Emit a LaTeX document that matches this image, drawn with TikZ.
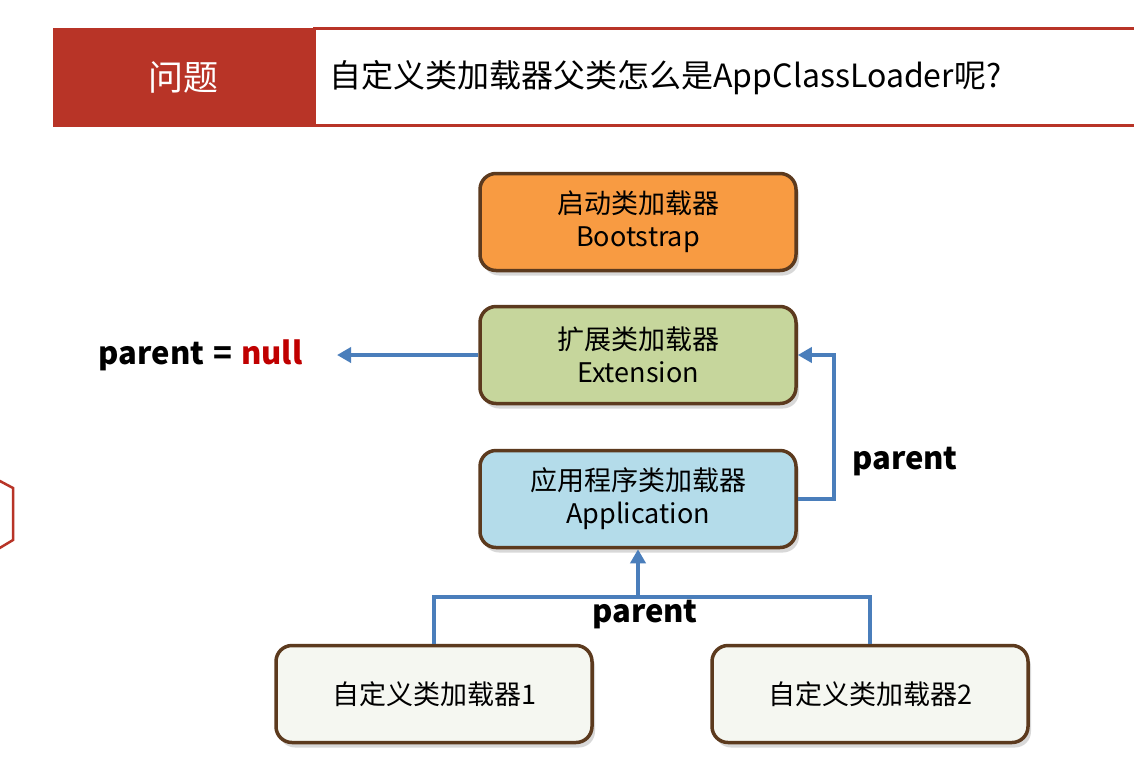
\documentclass[tikz,border=0pt]{standalone}
\usepackage{fontspec}
\setmainfont{Noto Sans CJK SC}
\usetikzlibrary{arrows.meta, positioning, shadows}
\definecolor{hdrred}{HTML}{B83427}
\definecolor{boxbrown}{HTML}{5C3A1E}
\definecolor{bootorange}{HTML}{F89B42}
\definecolor{extgreen}{HTML}{C6D69C}
\definecolor{appblue}{HTML}{B4DCEA}
\definecolor{custwhite}{HTML}{F5F7F1}
\definecolor{linkblue}{HTML}{4A7EBB}
\definecolor{nullred}{HTML}{C00000}

\begin{document}
\begin{tikzpicture}[x=1pt, y=-1pt,
    loader/.style={draw=boxbrown, line width=3.5pt, rounded corners=16pt,
        minimum width=316pt, minimum height=97pt, align=center,
        font=\fontsize{27}{33}\selectfont,
        drop shadow={shadow xshift=3pt, shadow yshift=-5pt, opacity=0.3}},
    link/.style={draw=linkblue, line width=4pt},
    >={Triangle[length=14pt, width=15pt]},
    tag/.style={font=\fontsize{31}{37}\selectfont\bfseries}]
    \useasboundingbox (0,0) rectangle (1134,774);
    \fill[white] (0,0) rectangle (1134,774);

    % header
    \node[fill=white, draw=hdrred, line width=2.5pt, minimum width=830pt, minimum height=97pt,
        anchor=west] (qbar) at (313,77) {};
    \node[fill=hdrred, minimum width=261pt, minimum height=99pt, text=white,
        font=\fontsize{35}{40}\selectfont] (qhead) at (183,77) {问题};
    \node[anchor=west, font=\fontsize{32}{38}\selectfont] (qtext) at (326,78)
        {自定义类加载器父类怎么是AppClassLoader呢?};

    % hexagon at the left edge
    \draw[hdrred, line width=2.5pt] (-2,480) -- (13,488) -- (13,540) -- (-2,549);

    % loaders
    \node[loader, fill=bootorange] (boot) at (638,222) {启动类加载器\\Bootstrap};
    \node[loader, fill=extgreen] (ext) at (638,355) {扩展类加载器\\Extension};
    \node[loader, fill=appblue] (app) at (638,499) {应用程序类加载器\\Application};
    \node[loader, fill=custwhite] (cust1) at (434,694) {自定义类加载器1};
    \node[loader, fill=custwhite] (cust2) at (870,694) {自定义类加载器2};

    \node[tag, anchor=east] (nullpar) at (306,355)
        {parent\hspace{9pt}=\hspace{9pt}\textcolor{nullred}{null}};
    \node[tag] (extpar) at (905,462) {parent};
    \node[tag] (apppar) at (645,615) {parent};

    % links
    \coordinate (join) at (638,597);
    \draw[link, ->] (ext.west) -- (nullpar.east -| 337,0);
    \draw[link, ->] (app.east) -- ++(36,0) |- (ext.east);
    \draw[link] (cust1.north) |- (join) -| (cust2.north);
    \draw[link, ->] (join) -- (app.south);
\end{tikzpicture}
\end{document}
